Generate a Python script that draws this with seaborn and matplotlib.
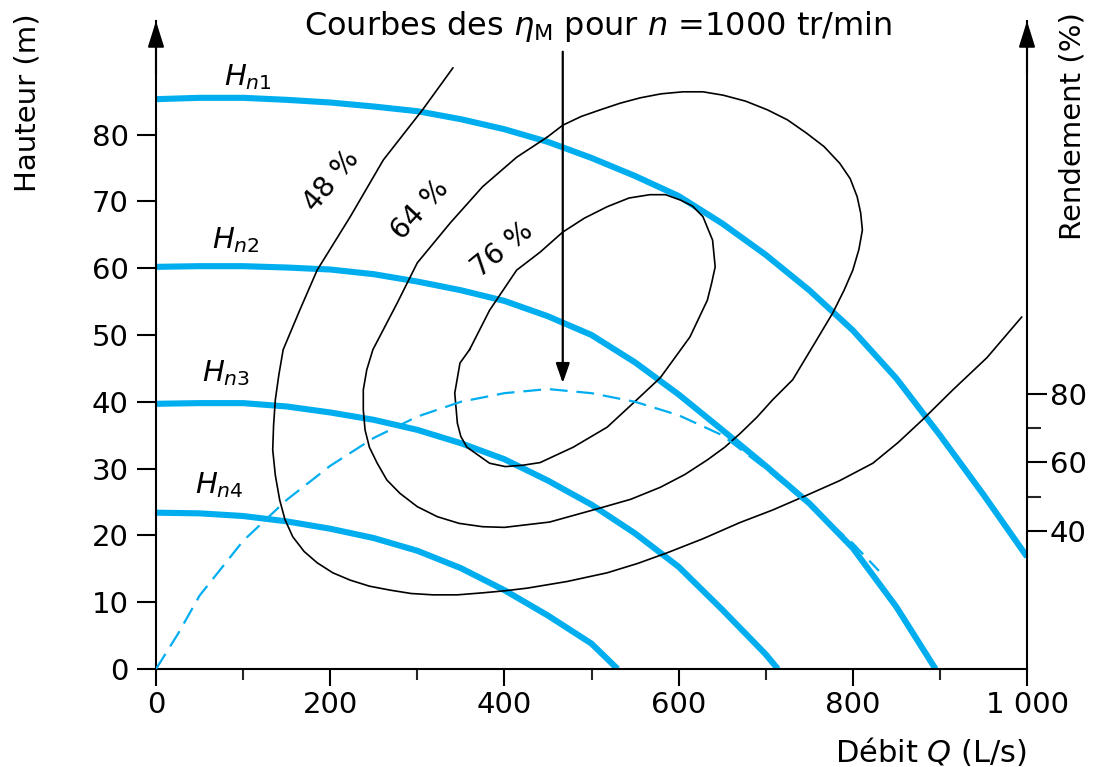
import numpy as np
import matplotlib
matplotlib.use("Agg")
import matplotlib.pyplot as plt
import seaborn as sns
from matplotlib.ticker import FixedLocator, NullFormatter

# ---------------- data ----------------
# pump head curves H(Q), Q in L/s, H in m
hn1_q = [0, 50, 100, 150, 200, 250, 300, 350, 400, 450, 500, 550, 600, 650, 700, 750, 800, 850, 900, 950, 1000]
hn1_h = [85.3, 85.5, 85.5, 85.2, 84.8, 84.2, 83.5, 82.3, 80.8, 78.9, 76.5, 73.8, 70.8, 66.7, 62.0, 56.7, 50.7,
         43.5, 35.0, 26.1, 16.8]

hn2_q = [0, 50, 100, 150, 200, 250, 300, 350, 400, 450, 500, 550, 600, 650, 700, 750, 800, 850, 895]
hn2_h = [60.2, 60.3, 60.3, 60.1, 59.8, 59.1, 58.0, 56.7, 55.1, 52.8, 50.0, 45.9, 41.1, 35.8, 30.4, 24.8, 18.1,
         9.3, 0.0]

hn3_q = [0, 50, 100, 150, 200, 250, 300, 350, 400, 450, 500, 550, 600, 650, 700, 714]
hn3_h = [39.7, 39.8, 39.8, 39.3, 38.4, 37.3, 35.8, 33.8, 31.4, 28.2, 24.6, 20.3, 15.3, 8.9, 2.2, 0.0]

hn4_q = [0, 50, 100, 150, 200, 250, 300, 350, 400, 450, 500, 530]
hn4_h = [23.4, 23.3, 22.9, 22.1, 21.0, 19.6, 17.7, 15.1, 11.8, 8.0, 3.8, 0.0]

# efficiency curve eta(Q) at n = 1000 tr/min (right axis, %)
eta_q = [0, 25, 50, 100, 150, 200, 250, 300, 350, 400, 450, 500, 550, 600, 650, 700, 750, 800, 830]
eta_v = [0, 10.1, 21.3, 37.2, 49.1, 59.0, 67.1, 73.3, 77.6, 80.1, 81.3, 80.1, 77.6, 73.7, 67.9, 58.2, 47.5,
         36.5, 28.5]

# iso-efficiency curves (Q, H)
c48_q = [341, 306, 261, 223, 185, 165, 146, 141, 137, 135, 134, 137, 142, 148, 157, 170, 185, 203, 223, 245,
         269, 293, 318, 346, 375, 400, 426, 472, 518, 553, 587, 628, 670, 708, 747, 785, 823, 852, 880, 915,
         954, 994]
c48_h = [90.0, 83.7, 76.2, 67.7, 59.7, 53.7, 47.8, 44.0, 40.3, 36.5, 32.8, 29.0, 25.3, 22.4, 19.8, 17.6, 15.9,
         14.4, 13.3, 12.4, 11.8, 11.3, 11.1, 11.1, 11.4, 11.7, 12.1, 13.1, 14.4, 15.8, 17.4, 19.5, 21.9, 23.8,
         26.0, 28.2, 30.8, 33.9, 37.3, 41.8, 46.6, 52.7]

c64_q = [449, 414, 375, 338, 300, 277, 249, 242, 238, 238, 240, 245, 254, 265, 280, 300, 323, 348, 375, 400,
         426, 452, 510, 545, 579, 607, 633, 653, 671, 690, 708, 731, 755, 777, 790, 800, 807, 811, 809, 805,
         797, 785, 767, 747, 725, 702, 677, 651, 628, 605, 580, 556, 533, 510, 488, 467, 449]
c64_h = [79.6, 76.6, 72.2, 66.8, 60.8, 54.8, 47.8, 44.8, 41.8, 38.8, 35.8, 33.2, 30.8, 28.3, 26.3, 24.3, 22.8,
         21.8, 21.3, 21.2, 21.6, 22.0, 24.1, 25.4, 27.2, 29.1, 31.3, 33.2, 35.3, 37.7, 40.3, 43.3, 48.5, 53.3,
         56.7, 59.7, 62.8, 65.7, 68.3, 70.7, 73.4, 75.7, 78.2, 80.2, 82.2, 83.7, 85.0, 85.9, 86.4, 86.4, 86.1,
         85.5, 84.7, 83.7, 82.7, 81.4, 79.6]

c76_q = [360, 349, 343, 346, 350, 357, 383, 401, 421, 441, 479, 518, 552, 579, 613, 633, 638, 642, 639, 628,
         616, 602, 585, 567, 543, 518, 492, 467, 441, 414, 383, 360]
c76_h = [47.8, 45.8, 41.3, 36.8, 34.8, 33.2, 30.8, 30.3, 30.5, 30.9, 33.2, 36.2, 40.3, 43.6, 49.7, 55.2, 57.8,
         60.2, 64.2, 67.7, 69.3, 70.2, 71.0, 71.0, 70.5, 69.2, 67.5, 65.4, 62.4, 59.7, 53.7, 47.8]

iso_labels = ["48 %", "64 %", "76 %"]
curve_labels = [r"$H_{n\mathrm{1}}$", r"$H_{n\mathrm{2}}$", r"$H_{n\mathrm{3}}$", r"$H_{n\mathrm{4}}$"]

x_ticks = [0, 200, 400, 600, 800, 1000]
x_ticklabels = ["0", "200", "400", "600", "800", "1 000"]
x_minor = [100, 300, 500, 700, 900]
y_ticks = [0, 10, 20, 30, 40, 50, 60, 70, 80]
eta_ticks = [40, 60, 80]
eta_minor = [50, 70]

# ---------------- style ----------------
sns.set_theme(style="ticks")
plt.rcParams["font.family"] = ["DejaVu Sans"]
plt.rcParams["mathtext.fontset"] = "dejavusans"

BLUE = "#00AEEF"
FS = 21

fig = plt.figure(figsize=(11.02, 7.67), dpi=100)
ax = fig.add_axes([156 / 1102, 98 / 767, 871 / 1102, 648 / 767])
H_TOP = 97.0
ETA_FACTOR = 1.94

# pump curves
for q, h in [(hn1_q, hn1_h), (hn2_q, hn2_h), (hn3_q, hn3_h), (hn4_q, hn4_h)]:
    sns.lineplot(x=q, y=h, ax=ax, color=BLUE, lw=4.4, sort=False, estimator=None,
                 solid_capstyle="butt", solid_joinstyle="round", zorder=2)

# iso-efficiency curves
for q, h in [(c48_q, c48_h), (c64_q, c64_h), (c76_q, c76_h)]:
    sns.lineplot(x=q, y=h, ax=ax, color="black", lw=1.2, sort=False, estimator=None,
                 solid_joinstyle="round", zorder=3)

ax.set_xlim(0, 1000)
ax.set_ylim(0, H_TOP)

# twin axis for efficiency
ax2 = ax.twinx()
ax2.set_ylim(0, H_TOP * ETA_FACTOR)
sns.lineplot(x=eta_q, y=eta_v, ax=ax2, color=BLUE, lw=1.6, sort=False, estimator=None, zorder=2)
ax2.lines[-1].set_dashes([8, 4])
ax2.set_xlim(0, 1000)

# spines
for a in (ax, ax2):
    a.spines["top"].set_visible(False)
    for s in a.spines.values():
        s.set_linewidth(1.5)
        s.set_color("black")
ax.spines["right"].set_visible(False)
ax2.spines["left"].set_visible(False)
ax2.spines["bottom"].set_visible(False)

# ticks
ax.xaxis.set_major_locator(FixedLocator(x_ticks))
ax.set_xticklabels(x_ticklabels)
ax.xaxis.set_minor_locator(FixedLocator(x_minor))
ax.xaxis.set_minor_formatter(NullFormatter())
ax.yaxis.set_major_locator(FixedLocator(y_ticks))
ax.tick_params(axis="x", which="major", direction="out", length=12, width=1.5, labelsize=FS, pad=4, colors="black")
ax.tick_params(axis="x", which="minor", direction="out", length=8, width=1.5)
ax.tick_params(axis="y", which="major", direction="out", length=13.5, width=1.5, labelsize=FS, pad=6, colors="black")

ax2.yaxis.set_major_locator(FixedLocator(eta_ticks))
ax2.yaxis.set_minor_locator(FixedLocator(eta_minor))
ax2.yaxis.set_minor_formatter(NullFormatter())
ax2.tick_params(axis="y", which="major", direction="out", length=14.5, width=1.5, labelsize=FS, pad=2, colors="black")
ax2.tick_params(axis="y", which="minor", direction="out", length=10, width=1.5)
ax2.set_ylabel("")
ax.set_xlabel("")
ax.set_ylabel("")

# axis arrows
for xq in (0, 1000):
    ax.annotate("", xy=(xq, H_TOP), xytext=(xq, H_TOP - 8), xycoords="data",
                arrowprops=dict(arrowstyle="-|>,head_length=0.8,head_width=0.25", color="black",
                                lw=1.5, mutation_scale=20, shrinkA=0, shrinkB=0),
                annotation_clip=False, zorder=5)

# eta_M arrow
ax.annotate("", xy=(467, 42.8), xytext=(467, 92.4), xycoords="data",
            arrowprops=dict(arrowstyle="-|>,head_length=1.0,head_width=0.35", color="black",
                            lw=1.6, mutation_scale=12, shrinkA=0, shrinkB=0),
            annotation_clip=False, zorder=5)

# curve labels
for (qx, hy), lab in zip([(106, 88.6), (92, 64.2), (80, 44.3), (73, 27.5)], curve_labels):
    ax.text(qx, hy, lab, fontsize=FS, ha="center", va="center", color="black")

# iso-efficiency labels
for (qx, hy, rot), lab in zip([(202, 73.0, 50), (303, 68.7, 47), (398, 62.7, 39)], iso_labels):
    ax.text(qx, hy, lab, fontsize=20, rotation=rot, rotation_mode="anchor",
            ha="center", va="center", color="black")

# titles / axis labels
fig.text(598 / 1102, 1 - 27 / 767, r"Courbes des $\eta_{\mathrm{M}}$ pour $n$ =1000 tr/min",
         fontsize=23, ha="center", va="center", color="black")
fig.text(1027 / 1102, 1 - 752 / 767, r"Débit $Q$ (L/s)", fontsize=22, ha="right", va="center", color="black")
fig.text(28 / 1102, 1 - 103 / 767, "Hauteur (m)", fontsize=FS, rotation=90, ha="center", va="center", color="black")
fig.text(1073 / 1102, 1 - 126 / 767, "Rendement (%)", fontsize=FS, rotation=90, ha="center", va="center", color="black")

fig.savefig("out.png", dpi=100, facecolor="white")
